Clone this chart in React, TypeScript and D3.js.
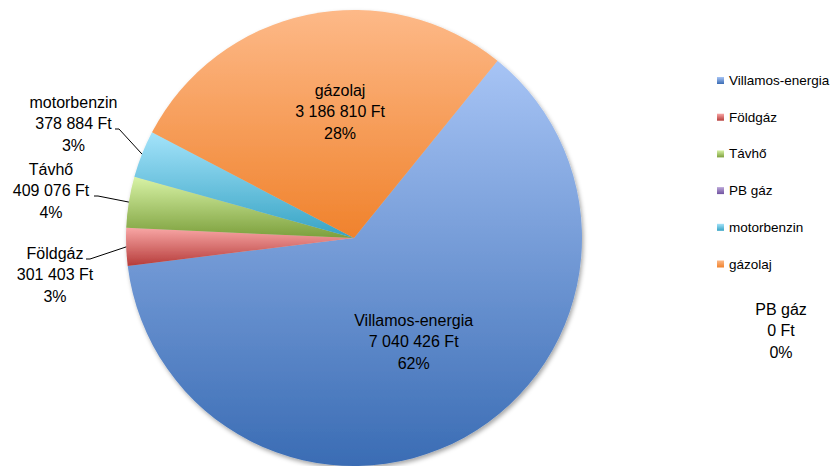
import React from 'react';
import * as d3 from 'd3';

const categories = ['Villamos-energia', 'Földgáz', 'Távhő', 'PB gáz', 'motorbenzin', 'gázolaj'];
const values = [7040426, 301403, 409076, 0, 378884, 3186810];
const topColors = ['#a7c4f5', '#f8a6a5', '#d8f3a6', '#bba7d8', '#a4e3fa', '#fdb988'];
const bottomColors = ['#3a6cb4', '#b63c3a', '#7c9f3c', '#7052a0', '#36a3c4', '#f0822c'];

const W = 836;
const H = 466;
const cx = 354;
const cy = 238;
const R = 228;
const firstSliceDeg = 39;
const FONT = '"Liberation Sans", Arial, sans-serif';
const lineGap = 21.5;

const fmtNum = (v: number) => d3.format(',')(v).replace(/,/g, ' ') + ' Ft';

const outside: Record<string, { x: number; y: number; lx: number; ly: number }> = {
  'motorbenzin': { x: 73.5, y: 102, lx: 115, ly: 129 },
  'Távhő': { x: 51, y: 169, lx: 94, ly: 196 },
  'Földgáz': { x: 55, y: 253, lx: 86, ly: 259 },
  'PB gáz': { x: 781, y: 309, lx: NaN, ly: NaN },
};
const insideNudge: Record<string, [number, number]> = {
  'gázolaj': [11, -6],
  'Villamos-energia': [0, -4],
};

export default function App() {
  const total = d3.sum(values);
  const start = (firstSliceDeg * Math.PI) / 180;
  const pie = d3
    .pie<number>()
    .sort(null)
    .value((d) => d)
    .startAngle(start)
    .endAngle(start + 2 * Math.PI);
  const arcs = pie(values);
  const arc = d3.arc<d3.PieArcDatum<number>>().innerRadius(0).outerRadius(R);
  const labelArc = d3.arc<d3.PieArcDatum<number>>().innerRadius(246).outerRadius(0);

  const legendX = 717;
  const legendY0 = 77;
  const legendStep = 36.7;

  return (
    <svg width={W} height={H} style={{ position: 'absolute', left: 0, top: 0, background: '#fff' }}>
      <defs>
        {categories.map((c, i) => (
          <linearGradient key={c} id={`g${i}`} x1="0" y1="0" x2="0" y2="1">
            <stop offset="0" stopColor={topColors[i]} />
            <stop offset="1" stopColor={bottomColors[i]} />
          </linearGradient>
        ))}
        <filter id="shadow" x="-10%" y="-10%" width="120%" height="120%">
          <feDropShadow dx="1.5" dy="2.5" stdDeviation="2" floodColor="#000" floodOpacity="0.35" />
        </filter>
      </defs>

      <g transform={`translate(${cx},${cy})`} filter="url(#shadow)">
        {arcs.map((a, i) =>
          a.endAngle - a.startAngle > 0 ? (
            <path key={categories[i]} d={arc(a) || ''} fill={`url(#g${i})`} />
          ) : null
        )}
      </g>

      {arcs.map((a, i) => {
        const name = categories[i];
        const lines = [name, fmtNum(values[i]), Math.round((values[i] / total) * 100) + '%'];
        const o = outside[name];
        let x: number;
        let y: number;
        let leader: React.ReactNode = null;
        if (o) {
          x = o.x;
          y = o.y;
          if (!isNaN(o.lx)) {
            const mid = (a.startAngle + a.endAngle) / 2;
            const ex = cx + R * Math.sin(mid);
            const ey = cy - R * Math.cos(mid);
            leader = (
              <polyline
                points={`${o.lx},${o.ly} ${o.lx + 4},${o.ly} ${ex},${ey}`}
                fill="none"
                stroke="#000"
                strokeWidth={1}
              />
            );
          }
        } else {
          const [mx, my] = labelArc.centroid(a);
          const n = insideNudge[name] || [0, 0];
          x = cx + mx + n[0];
          y = cy + my + n[1] - lineGap;
        }
        return (
          <g key={'l' + name}>
            {leader}
            {lines.map((t, k) => (
              <text
                key={k}
                x={x}
                y={y + k * lineGap + 5.5}
                textAnchor="middle"
                fontFamily={FONT}
                fontSize={16}
                fill="#000"
              >
                {t}
              </text>
            ))}
          </g>
        );
      })}

      <g>
        {categories.map((c, i) => (
          <g key={'lg' + c} transform={`translate(${legendX},${legendY0 + i * legendStep})`}>
            <rect x={0} y={0} width={7} height={7} fill={`url(#g${i})`} />
            <text x={12} y={8} fontFamily={FONT} fontSize={13.5} fill="#000">
              {c}
            </text>
          </g>
        ))}
      </g>
    </svg>
  );
}
